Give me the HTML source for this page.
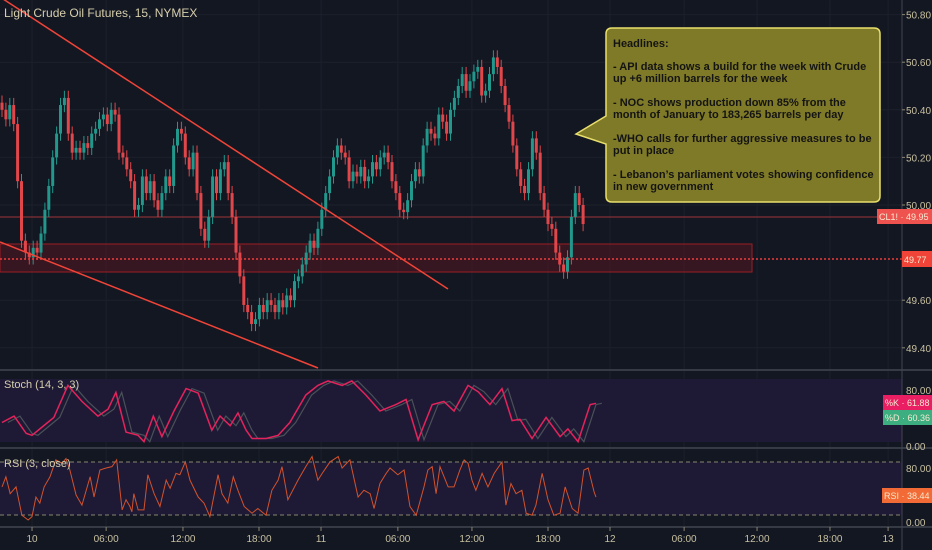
<!DOCTYPE html>
<html><head><meta charset="utf-8"><style>
html,body{margin:0;padding:0;background:#131722;}
svg{display:block;font-family:"Liberation Sans",sans-serif;}
</style></head><body>
<svg id="chart" width="932" height="550" viewBox="0 0 932 550" xmlns="http://www.w3.org/2000/svg">
<rect x="0" y="0" width="932" height="550" fill="#131722"/>
<g id="grid"></g>
<rect x="0" y="379" width="902" height="63" fill="#1e1a36"/>
<rect x="0" y="462" width="902" height="53" fill="#1e1a36"/>
<line x1="0" y1="462" x2="902" y2="462" stroke="#8a8470" stroke-dasharray="4,3"/>
<line x1="0" y1="515" x2="902" y2="515" stroke="#8a8470" stroke-dasharray="4,3"/>
<rect x="0" y="244" width="752" height="28" fill="rgba(120,20,30,0.35)" stroke="#9c1c24" stroke-width="1"/>
<line x1="0" y1="217" x2="902" y2="217" stroke="#a0343a" stroke-width="1"/>
<g id="candles"></g>
<line x1="0" y1="259" x2="902" y2="259" stroke="#ef3b3b" stroke-width="1.5" stroke-dasharray="2,2"/>
<line x1="0" y1="-3" x2="448" y2="289" stroke="#f04438" stroke-width="1.5"/>
<line x1="0" y1="242" x2="318" y2="368" stroke="#f04438" stroke-width="1.5"/>
<g id="stoch"></g>
<g id="rsi"></g>
<line x1="0" y1="370" x2="932" y2="370" stroke="#363a45" stroke-width="2"/>
<line x1="0" y1="448" x2="932" y2="448" stroke="#363a45" stroke-width="2"/>
<line x1="0" y1="527" x2="932" y2="527" stroke="#363a45" stroke-width="2"/>
<line x1="902" y1="0" x2="902" y2="550" stroke="#434651" stroke-width="1"/>
<g id="axes" font-size="10" fill="#c8c0a0"></g>
<text x="4" y="17" font-size="12" fill="#d6ceac">Light Crude Oil Futures, 15, NYMEX</text>
<text x="4" y="388" font-size="11" fill="#d6ceac">Stoch (14, 3, 3)</text>
<text x="4" y="467" font-size="11" fill="#d6ceac">RSI (3, close)</text>
<g>
<path d="M612 28 H874 Q880 28 880 34 V196 Q880 202 874 202 H612 Q606 202 606 196 V144 L576 134 L606 116 V34 Q606 28 612 28 Z" fill="#7f7a27" stroke="#e8df6c" stroke-width="1.5"/>
<text font-size="11" fill="#141414" font-weight="bold">
<tspan x="613" y="47">Headlines:</tspan>
<tspan x="613" y="70">- API data shows a build for the week with Crude</tspan>
<tspan x="613" y="82">up +6 million barrels for the week</tspan>
<tspan x="613" y="106">- NOC shows production down 85% from the</tspan>
<tspan x="613" y="118">month of January to 183,265 barrels per day</tspan>
<tspan x="613" y="142">-WHO calls for further aggressive measures to be</tspan>
<tspan x="613" y="154">put in place</tspan>
<tspan x="613" y="178">- Lebanon’s parliament votes showing confidence</tspan>
<tspan x="613" y="190">in new government</tspan>
</text>
</g>
<g font-size="9">
<rect x="877" y="209" width="55" height="15" fill="#ef5350"/>
<text x="879" y="220" fill="#f5e9d0">CL1! · 49.95</text>
<rect x="902" y="251" width="30" height="16" fill="#f04438"/>
<text x="904" y="263" fill="#f5e9d0">49.77</text>
<rect x="883" y="395" width="49" height="15" fill="#e91e63"/>
<text x="885" y="406" fill="#f5e9d0">%K · 61.88</text>
<rect x="883" y="410" width="49" height="15" fill="#3cae80"/>
<text x="885" y="421" fill="#f5e9d0">%D · 60.36</text>
<rect x="882" y="488" width="50" height="15" fill="#f26a35"/>
<text x="884" y="499" fill="#f5e9d0">RSI · 38.44</text>
</g>
</svg>
<script>
const closes=[50.40,50.36,50.42,50.34,50.10,49.85,49.80,49.78,49.82,49.80,49.88,49.98,50.08,50.20,50.30,50.42,50.45,50.30,50.22,50.24,50.22,50.26,50.24,50.30,50.32,50.36,50.38,50.34,50.40,50.38,50.22,50.20,50.15,50.10,49.98,50.00,50.12,50.05,50.10,50.02,49.98,50.05,50.12,50.08,50.25,50.32,50.30,50.20,50.15,50.22,50.05,49.90,49.85,49.95,50.12,50.05,50.15,50.18,50.05,49.95,49.80,49.70,49.58,49.55,49.50,49.52,49.58,49.55,49.60,49.58,49.55,49.60,49.57,49.62,49.60,49.68,49.70,49.75,49.80,49.85,49.82,49.90,49.98,50.05,50.12,50.20,50.25,50.22,50.20,50.10,50.14,50.12,50.16,50.10,50.12,50.18,50.15,50.20,50.22,50.18,50.10,50.05,49.98,49.97,50.02,50.10,50.15,50.12,50.25,50.32,50.30,50.28,50.38,50.35,50.30,50.40,50.45,50.50,50.55,50.48,50.52,50.56,50.58,50.46,50.48,50.55,50.62,50.58,50.50,50.42,50.35,50.25,50.15,50.08,50.05,50.15,50.28,50.22,50.05,49.98,49.92,49.90,49.80,49.75,49.72,49.78,49.95,50.05,50.00,49.92];
const priceTicks=[50.80,50.60,50.40,50.20,50.00,49.60,49.40];
const stochT=[0,3.1,6.2,7.7,10.3,13.3,16.9,20.5,24.6,27.2,29.2,31.8,34.9,36.4,38.8,41,44.1,47.2,50.3,53.8,55.9,58.5,60.5,62.6,64.1,67.7,70.8,73.8,77.9,81,83.6,87.2,89.7,93.3,96.9,101,103.6,106.7,110.3,113.3,115.9,119.5,122.1,125.1,128.2,130.8,132.8,135.9,139.5,143.1,145.1,147.7,150.8,152.3];
const stochK=[32,42,15,12,25,40,90,65,42,53,79,17,12,2,42,10,50,85,78,20,42,27,47,20,7,7,12,32,75,90,97,90,97,75,50,60,68,5,60,65,50,90,80,60,85,35,37,7,40,10,22,2,60,62];
const rsiT=[0,1,2.1,3.6,5.1,6.7,7.7,8.7,9.7,10.8,12.3,13.8,15.4,16.4,17.4,19,20.5,22.6,23.6,25.1,26.7,28.2,29.4,30.8,31.8,32.8,33.3,33.8,34.9,36.4,37.4,39,40.5,42.1,43.1,44.6,45.6,47,48.2,50.3,51.8,53.3,55.4,56.4,57.9,59.3,60.5,62.1,64.1,65.6,67.7,69.2,70.8,71.8,73.3,75.9,77.9,79.5,81,82.1,84.1,86.2,87.2,89.2,91.3,92.8,94.4,95.4,96.9,98.5,99.5,101.5,103.1,104.6,106.2,108.2,109.2,110.3,111.3,112.3,114.4,115.9,117.4,118.5,119.5,120.5,121.5,123.1,124.6,126.2,128.2,129.2,130.5,131.8,133.3,134.4,135.9,136.9,138.5,140,141.5,143.1,144.4,146.2,147.7,149.2,150.3,151.8,152.3];
const rsiV=[52,67,42,52,10,3,8,37,28,52,67,92,87,94,77,40,25,67,37,77,80,82,92,18,33,23,15,42,18,18,70,42,23,62,50,72,70,89,62,37,28,8,70,42,28,67,47,23,13,20,10,47,62,82,33,62,82,97,62,72,89,97,80,92,37,47,42,20,57,72,80,70,77,23,10,52,77,82,42,82,52,52,77,92,87,62,47,72,52,72,89,25,57,42,47,13,10,25,72,33,10,13,52,20,13,77,80,45,37];
const timeTicks=[7.7,26.7,46.4,65.9,81.8,101.5,120.5,140,155.9,174.9,193.6,212.3,227.2];
const timeLabels=["10","06:00","12:00","18:00","11","06:00","12:00","18:00","12","06:00","12:00","18:00","13"];
const stochTicks=[80,0];
const rsiTicks=[80,0];

const NS="http://www.w3.org/2000/svg";
function xOf(i){return 2+i*3.9;}
function yPrice(p){return 205+(50-p)*238;}
function yStoch(v){return 443-v*0.64;}
function yRsi(v){return 522-v*0.675;}
function mk(tag,attrs,parent){const e=document.createElementNS(NS,tag);for(const k in attrs)e.setAttribute(k,attrs[k]);parent.appendChild(e);return e;}

const grid=document.getElementById('grid');
priceTicks.forEach(p=>{const l=mk('line',{x1:0,x2:902,y1:yPrice(p),y2:yPrice(p),stroke:'#1c202b'},grid);

});
timeTicks.forEach(t=>{const l=mk('line',{x1:xOf(t),x2:xOf(t),y1:0,y2:527,stroke:'#1c202b'},grid);

});

const cg=document.getElementById('candles');
closes.forEach((c,i)=>{
  const o=i===0?c+0.03:closes[i-1];
  const up=c>=o;const col=up?'#22978c':'#e0464a';
  const x=xOf(i);
  const hi=Math.max(o,c)+0.03, lo=Math.min(o,c)-0.03;
  const g=mk('g',{},cg);
  
  
  mk('line',{x1:x,x2:x,y1:yPrice(hi),y2:yPrice(lo),stroke:col,'stroke-width':1},g);
  const yt=yPrice(Math.max(o,c)),yb=yPrice(Math.min(o,c));
  mk('rect',{x:x-1.5,y:yt,width:3,height:Math.max(1,yb-yt),fill:col},g);
});

const sg=document.getElementById('stoch');
const dPts=stochK.map((v,i)=>xOf(stochT[i]+1.5)+','+yStoch(v)).join(' ');
const kPts=stochK.map((v,i)=>xOf(stochT[i])+','+yStoch(v)).join(' ');
const dl=mk('polyline',{points:dPts,fill:'none',stroke:'#4a5158','stroke-width':1.2},sg);


const kl=mk('polyline',{points:kPts,fill:'none',stroke:'#e4235c','stroke-width':1.5},sg);



const rg=document.getElementById('rsi');
const n=Math.min(rsiT.length,rsiV.length);
const rPts=[];for(let i=0;i<n;i++)rPts.push(xOf(rsiT[i])+','+yRsi(rsiV[i]));
const rl=mk('polyline',{points:rPts.join(' '),fill:'none',stroke:'#d2522c','stroke-width':1},rg);



const ax=document.getElementById('axes');
priceTicks.forEach(p=>{const t=mk('text',{x:906,y:yPrice(p)+4},ax);t.textContent=p.toFixed(2);


mk('line',{x1:902,x2:905,y1:yPrice(p),y2:yPrice(p),stroke:'#8a8470'},ax);});
stochTicks.forEach(v=>{const t=mk('text',{x:906,y:(v===0?446:390)+4},ax);t.textContent=v.toFixed(2);

});
rsiTicks.forEach(v=>{const t=mk('text',{x:906,y:yRsi(v)+4},ax);t.textContent=v.toFixed(2);

});
timeTicks.forEach((tk,i)=>{const t=mk('text',{x:xOf(tk),y:542,'text-anchor':'middle'},ax);t.textContent=timeLabels[i];


mk('line',{x1:xOf(tk),x2:xOf(tk),y1:527,y2:531,stroke:'#8a8470'},ax);});
</script>
</body></html>
